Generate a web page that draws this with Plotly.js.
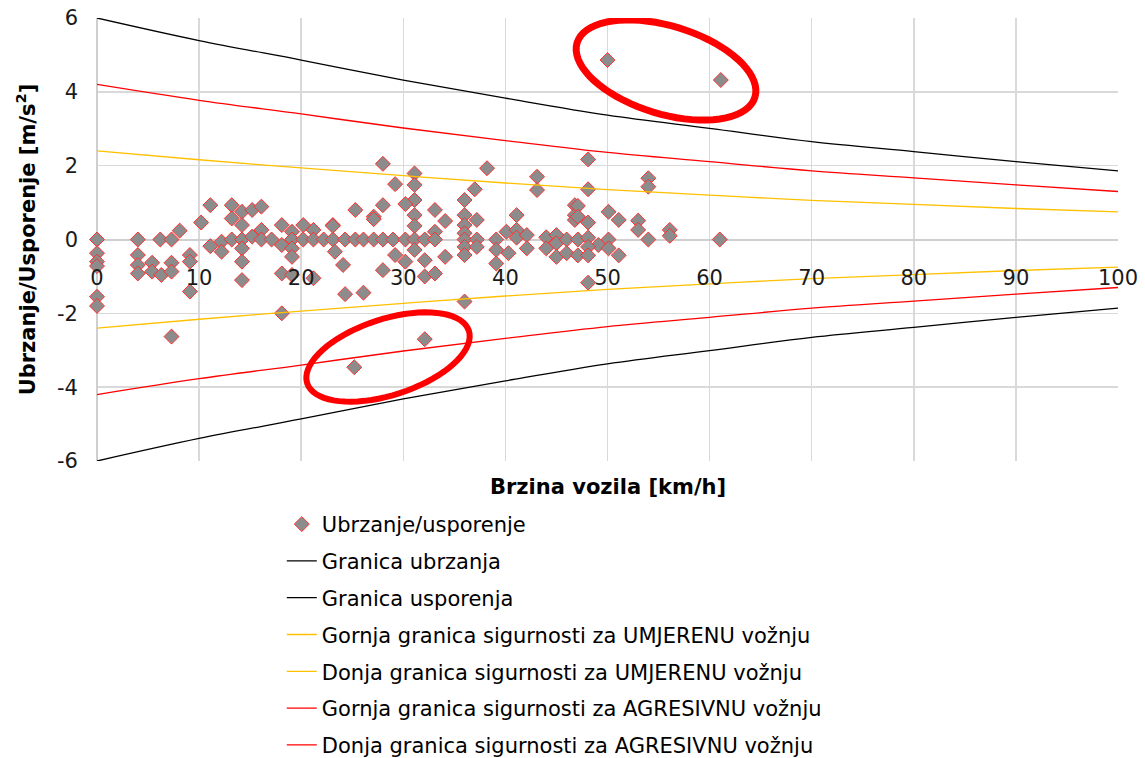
<!DOCTYPE html>
<html>
<head>
<meta charset="utf-8">
<script src="https://cdn.plot.ly/plotly-3.0.1.min.js"></script>
<style>html,body{margin:0;padding:0;background:#fff;}#chart{width:1145px;height:758px;}</style>
</head>
<body>
<div id="chart"></div>
<script>
// ---- data ----
const speedX = [
  0,0,0,0,0,0, 4,4,4,4, 5.4,5.4, 6.2,6.3, 7.3,7.3,7.3,7.3, 8.1, 9.1,9.1,9.1, 10.2, 11.1,11.1,
  13.2,13.2,14.2,14.2,15.2,16.1, 12.2,12.2,13.2,14.2,14.2,14.2,14.2, 15.2,16.1,16.1,17.1,18.1,18.1,18.1,18.1,
  19.1,19.1,19.1,19.1,19.1, 20.2,20.2,21.2,21.2,21.2,22.2,23.1,23.1,
  28.0,31.1,29.2,31.1,31.1,25.3,28.0,30.2,27.1,27.1,31.1,31.1,33.1,34.1,23.1,33.1,
  24.3,25.3,26.1,27.1,28.0,29.0,30.2,31.1,32.1,33.1,
  23.3,24.1,28.0,29.2,30.2,31.1,32.1,32.1,33.1,34.1,24.3,26.1, 25.2,32.1,
  38.2,37.0,36.0,36.0,37.2,36.0,36.0,36.0,37.2,36.0,36.0,37.2,36.0,
  43.1,43.1,41.1,40.1,41.1,41.1,42.1,39.1,39.1,39.1,40.3,42.1,44.0,44.0,45.0,45.0,45.0,46.0,46.0,46.8,46.8,46.8,
  48.1,48.1,54.0,54.0,47.1,47.1,48.1,50.1,51.1,53.0,53.0,56.1,56.1,54.0,47.1,48.1,49.1,50.1,50.1,51.1,47.1,48.1,48.1,48.1,61.0,
  50.0,61.1
];
const accelY = [
  0,-0.37,-0.6,-0.72,-1.55,-1.8, 0,-0.42,-0.69,-0.92, -0.63,-0.87, 0,-0.96, 0,-0.63,-0.87,-2.63, 0.24, -0.42,-0.6,-1.41, 0.46, 0.93,-0.18,
  0.93,0.57,0.75,0.39,0.8,0.89, -0.06,-0.33,0,0,-0.24,-0.6,-1.1, 0.08,0.26,0,0,0.39,-0.15,-0.92,-2.0,
  0.21,0,-0.24,-0.47,-0.96, 0.39,0,0.26,0,-1.05,0,0.39,0,
  2.05,1.79,1.5,1.48,1.07,0.8,0.93,0.96,0.62,0.55,0.66,0.37,0.8,0.5,0.37,0.21,
  0,0,0,0,0,0,0,0,0,0,
  -0.33,-0.69,-0.83,-0.42,-0.6,-0.28,-0.56,-1.0,-0.92,-0.47,-1.48,-1.44, -3.46,-2.7,
  1.93,1.36,1.07,0.66,0.53,0.39,0.17,0,0,-0.2,-0.42,-0.2,-1.68,
  1.7,1.34,0.66,0.21,0.26,0.05,0.12,0,-0.28,-0.65,-0.37,-0.24,0.06,-0.24,0.12,-0.1,-0.47,0,-0.37,0.93,0.66,0.53,
  2.17,1.36,1.66,1.43,0.91,0.62,0.46,0.75,0.53,0.51,0.26,0.26,0.1,0,0,0.05,-0.15,0,-0.24,-0.43,-0.43,-0.2,-0.43,-1.17,0,
  4.86,4.32
];

const limitX      = [0, 10, 20, 30, 40, 50, 60, 70, 80, 90, 100];
const accelLimit  = [6.0, 5.39, 4.86, 4.32, 3.83, 3.37, 3.01, 2.65, 2.38, 2.11, 1.86];
const decelLimit  = [-6.0, -5.39, -4.86, -4.32, -3.83, -3.37, -3.01, -2.65, -2.38, -2.11, -1.86];
const moderateUp  = [2.4, 2.16, 1.94, 1.73, 1.53, 1.35, 1.2, 1.06, 0.95, 0.84, 0.75];
const moderateLow = [-2.4, -2.16, -1.94, -1.73, -1.53, -1.35, -1.2, -1.06, -0.95, -0.84, -0.75];
const aggressUp   = [4.2, 3.77, 3.4, 3.02, 2.68, 2.36, 2.11, 1.86, 1.67, 1.48, 1.3];
const aggressLow  = [-4.2, -3.77, -3.4, -3.02, -2.68, -2.36, -2.11, -1.86, -1.67, -1.48, -1.3];

const seriesNames = [
  "Ubrzanje/usporenje",
  "Granica ubrzanja",
  "Granica usporenja",
  "Gornja granica sigurnosti za UMJERENU vožnju",
  "Donja granica sigurnosti za UMJERENU vožnju",
  "Gornja granica sigurnosti za AGRESIVNU vožnju",
  "Donja granica sigurnosti za AGRESIVNU vožnju"
];
const xTickVals = [0,10,20,30,40,50,60,70,80,90,100];
const yTickVals = [-6,-4,-2,0,2,4,6];

// ---- geometry ----
const W = 1145, H = 758;
const M = {l: 97, r: 27, t: 18, b: 297, autoexpand: false};
const PW = W - M.l - M.r, PH = H - M.t - M.b;
const XR = [0, 100], YR = [-6, 6];
function pxToData(px, py) {
  return [XR[0] + (px - M.l) / PW * (XR[1] - XR[0]), YR[1] - (py - M.t) / PH * (YR[1] - YR[0])];
}
function ellipsePath(cx, cy, a, b, deg) {
  const t = deg * Math.PI / 180; let p = "";
  for (let i = 0; i <= 72; i++) {
    const f = i / 72 * 2 * Math.PI;
    const px = cx + a * Math.cos(f) * Math.cos(t) - b * Math.sin(f) * Math.sin(t);
    const py = cy + a * Math.cos(f) * Math.sin(t) + b * Math.sin(f) * Math.cos(t);
    const d = pxToData(px, py);
    p += (i === 0 ? "M" : "L") + d[0].toFixed(3) + "," + d[1].toFixed(3);
  }
  return p + "Z";
}

const FONT = "'DejaVu Sans', Verdana, sans-serif";
const lineTrace = (y, name, color, g) => ({
  x: limitX, y: y, name: name, type: "scatter", mode: "lines",
  line: {color: color, width: 1.3, shape: "spline"}, legendgroup: g, hoverinfo: "skip"
});

const traces = [
  {x: speedX, y: accelY, name: seriesNames[0], type: "scatter", mode: "markers", legendgroup: "g0", cliponaxis: false,
   marker: {symbol: "diamond", size: 11.5, color: "#8c8c8c", line: {color: "#ff3030", width: 1}}},
  lineTrace(accelLimit, seriesNames[1], "#000000", "g1"),
  lineTrace(decelLimit, seriesNames[2], "#000000", "g2"),
  lineTrace(moderateUp, seriesNames[3], "#ffc000", "g3"),
  lineTrace(moderateLow, seriesNames[4], "#ffc000", "g4"),
  lineTrace(aggressUp, seriesNames[5], "#ff0000", "g5"),
  lineTrace(aggressLow, seriesNames[6], "#ff0000", "g6")
];

const layout = {
  width: W, height: H, margin: M,
  paper_bgcolor: "#ffffff", plot_bgcolor: "#ffffff",
  font: {family: FONT, color: "#1a1a1a", size: 21},
  showlegend: true,
  legend: {orientation: "v", x: 0.181, xanchor: "left", y: -0.097, yanchor: "top",
           font: {family: FONT, size: 21, color: "#000"}, tracegroupgap: 6.5, bgcolor: "rgba(0,0,0,0)"},
  xaxis: {range: XR, tickvals: xTickVals, ticktext: xTickVals.map(String),
          anchor: "free", position: 0.5, showline: false, zeroline: true, zerolinecolor: "#cfcfcf", zerolinewidth: 2,
          showgrid: true, gridcolor: "#d9d9d9", gridwidth: 1.5, ticks: "", ticklabelstandoff: 23,
          tickfont: {family: FONT, size: 21, color: "#1a1a1a"}, fixedrange: true},
  yaxis: {range: YR, tickvals: yTickVals, ticktext: yTickVals.map(String),
          showgrid: true, gridcolor: "#d9d9d9", gridwidth: 1.5, zeroline: true, zerolinecolor: "#cfcfcf", zerolinewidth: 2,
          ticks: "", ticklabelstandoff: 18, tickfont: {family: FONT, size: 21, color: "#1a1a1a"},
          title: {text: "<b>Ubrzanje/Usporenje [m/s<sup>2</sup>]</b>", font: {family: FONT, size: 21, color: "#000"}, standoff: 15},
          fixedrange: true},
  annotations: [
    {text: "<b>Brzina vozila [km/h]</b>", xref: "paper", yref: "paper", x: 0.5, y: -26 / PH,
     xanchor: "center", yanchor: "middle", showarrow: false, font: {family: FONT, size: 21, color: "#000"}}
  ],
  shapes: [
    {type: "path", xref: "x", yref: "y", path: ellipsePath(666, 70, 93, 44, 17), line: {color: "#ff0000", width: 7}},
    {type: "path", xref: "x", yref: "y", path: ellipsePath(388, 357, 85, 38, -18), line: {color: "#ff0000", width: 6}}
  ]
};

Plotly.newPlot("chart", traces, layout, {displayModeBar: false, staticPlot: true});
</script>
</body>
</html>
